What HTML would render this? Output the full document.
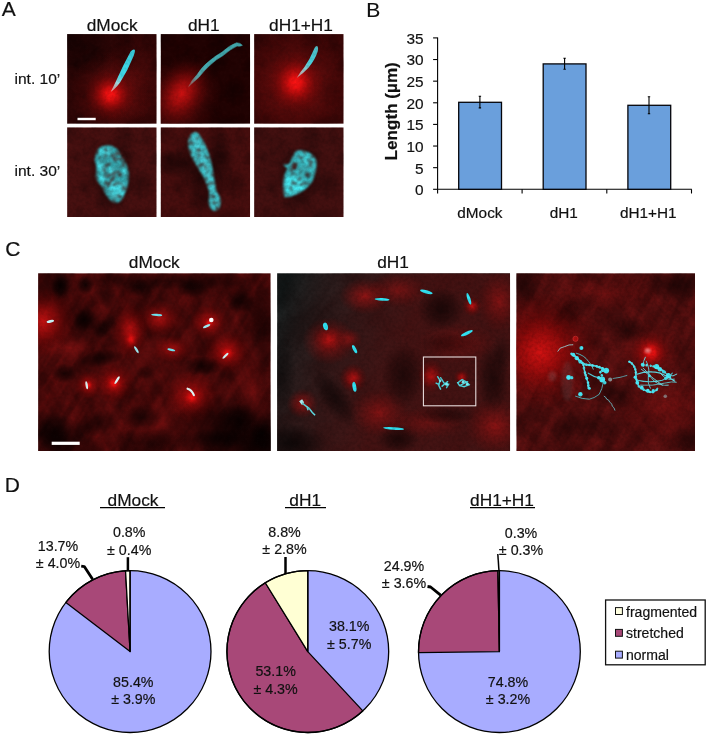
<!DOCTYPE html>
<html lang="en">
<head>
<meta charset="utf-8">
<title>Figure</title>
<style>
html,body{margin:0;padding:0;background:#fff;}
body{width:708px;height:740px;overflow:hidden;position:relative;}
svg{display:block;}
#fig{position:absolute;left:0;top:0;}
text{font-family:"Liberation Sans",Arial,Helvetica,sans-serif;fill:#111;stroke:#111;stroke-width:0.18px;}
.pl{font-size:21px;}
.h17{font-size:17.3px;}
.t15{font-size:15.55px;}
.ax{font-size:15.35px;}
.tk{font-size:15.4px;}
.pt{font-size:14.25px;}
.lg{font-size:14.05px;}
.yl{font-size:17.1px;font-weight:bold;}
</style>
</head>
<body>
<svg id="fig" width="708" height="740" viewBox="0 0 708 740">
<defs>
<filter id="b05" x="-30%" y="-30%" width="160%" height="160%"><feGaussianBlur stdDeviation="0.5"/></filter>
<filter id="b1" x="-30%" y="-30%" width="160%" height="160%"><feGaussianBlur stdDeviation="0.9"/></filter>
<filter id="b2" x="-30%" y="-30%" width="160%" height="160%"><feGaussianBlur stdDeviation="1.6"/></filter>
<filter id="b3" x="-30%" y="-30%" width="160%" height="160%"><feGaussianBlur stdDeviation="3"/></filter>
<filter id="nzA" x="0" y="0" width="100%" height="100%" color-interpolation-filters="sRGB"><feTurbulence type="fractalNoise" baseFrequency="0.06" numOctaves="3" seed="4"/><feColorMatrix type="matrix" values="0 0 0 0 0  0 0 0 0 0  0 0 0 0 0  2.2 0 0 0 -0.85"/></filter>
<filter id="nzC" x="0" y="0" width="100%" height="100%" color-interpolation-filters="sRGB"><feTurbulence type="fractalNoise" baseFrequency="0.035 0.03" numOctaves="4" seed="11"/><feColorMatrix type="matrix" values="0 0 0 0 0  0 0 0 0 0  0 0 0 0 0  3.2 0 0 0 -1.25"/></filter>
<filter id="nzF" x="0" y="0" width="100%" height="100%" color-interpolation-filters="sRGB"><feTurbulence type="fractalNoise" baseFrequency="0.32" numOctaves="2" seed="7"/><feColorMatrix type="matrix" values="0 0 0 0 0  0 0 0 0 0  0 0 0 0 0  1.6 0 0 0 -0.6"/></filter>
<filter id="fib" x="0" y="0" width="100%" height="100%" color-interpolation-filters="sRGB"><feTurbulence type="fractalNoise" baseFrequency="0.012 0.09" numOctaves="3" seed="5"/><feColorMatrix type="matrix" values="0 0 0 0 0  0 0 0 0 0  0 0 0 0 0  3.4 0 0 0 -1.35"/></filter>
<filter id="tex" x="-20%" y="-20%" width="140%" height="140%" color-interpolation-filters="sRGB"><feTurbulence type="fractalNoise" baseFrequency="0.22" numOctaves="2" seed="3" result="n"/><feColorMatrix in="n" type="matrix" values="0 0 0 0 0.25  0 0 0 0 0.2  0 0 0 0 0.2  3.0 0 0 0 -1.4" result="d"/><feComposite in="d" in2="SourceGraphic" operator="in" result="dd"/><feMerge><feMergeNode in="SourceGraphic"/><feMergeNode in="dd"/></feMerge><feGaussianBlur stdDeviation="0.8"/></filter>
<linearGradient id="c2r" x1="12" y1="0" x2="135" y2="45" gradientUnits="userSpaceOnUse"><stop offset="0" stop-color="#4c1212" stop-opacity="0"/><stop offset="0.3" stop-color="#4c1212" stop-opacity="0.3"/><stop offset="0.6" stop-color="#4c1212" stop-opacity="0.55"/><stop offset="1" stop-color="#4e1010" stop-opacity="0.8"/></linearGradient>
<radialGradient id="gR"><stop offset="0" stop-color="#fa1414"/><stop offset="0.18" stop-color="#ec1010" stop-opacity="0.95"/><stop offset="0.42" stop-color="#b80a0a" stop-opacity="0.7"/><stop offset="0.7" stop-color="#800606" stop-opacity="0.32"/><stop offset="1" stop-color="#600000" stop-opacity="0"/></radialGradient>
<radialGradient id="gM"><stop offset="0" stop-color="#d41212" stop-opacity="0.95"/><stop offset="0.35" stop-color="#b00c0c" stop-opacity="0.7"/><stop offset="0.7" stop-color="#800606" stop-opacity="0.3"/><stop offset="1" stop-color="#600000" stop-opacity="0"/></radialGradient>
<radialGradient id="gS"><stop offset="0" stop-color="#a01414" stop-opacity="0.85"/><stop offset="0.5" stop-color="#801010" stop-opacity="0.5"/><stop offset="1" stop-color="#600808" stop-opacity="0"/></radialGradient>
<radialGradient id="gD"><stop offset="0" stop-color="#000" stop-opacity="0.8"/><stop offset="0.5" stop-color="#000" stop-opacity="0.5"/><stop offset="1" stop-color="#000" stop-opacity="0"/></radialGradient>
<linearGradient id="st1" x1="44" y1="58" x2="67" y2="15" gradientUnits="userSpaceOnUse"><stop offset="0" stop-color="#f08080"/><stop offset="0.22" stop-color="#a0d8dc"/><stop offset="0.4" stop-color="#40dcec"/><stop offset="1" stop-color="#38c8d8"/></linearGradient>
<linearGradient id="st2" x1="28" y1="52" x2="80" y2="10" gradientUnits="userSpaceOnUse"><stop offset="0" stop-color="#a05050"/><stop offset="0.18" stop-color="#5aa0a4"/><stop offset="0.4" stop-color="#44aab0"/><stop offset="1" stop-color="#42a6aa"/></linearGradient>
<linearGradient id="st3" x1="42" y1="44" x2="63" y2="12" gradientUnits="userSpaceOnUse"><stop offset="0" stop-color="#e08080"/><stop offset="0.3" stop-color="#90c8cc"/><stop offset="0.55" stop-color="#48d0dc"/><stop offset="1" stop-color="#50b8c0"/></linearGradient>
</defs>

<text class="pl" x="1.8" y="16.3">A</text>
<text class="h17" x="112.2" y="31.3" text-anchor="middle">dMock</text>
<text class="h17" x="203.8" y="31.3" text-anchor="middle">dH1</text>
<text class="h17" x="301" y="31.3" text-anchor="middle">dH1+H1</text>
<text class="t15" x="14.5" y="83.9">int. 10’</text>
<text class="t15" x="14.5" y="176.1">int. 30’</text>
<svg x="67.1" y="34.1" width="89.6" height="89.75" viewBox="0 0 89.6 89.75" overflow="hidden">
<rect width="89.6" height="89.75" fill="#2e0606"/>
<rect width="89.6" height="89.75" filter="url(#nzA)" opacity="0.35"/>
<ellipse cx="70" cy="50" rx="40" ry="60" fill="url(#gS)" opacity="0.35"/><ellipse cx="10" cy="12" rx="40" ry="36" fill="url(#gD)" opacity="0.5"/><ellipse cx="44" cy="60" rx="42" ry="42" fill="url(#gS)" opacity="0.75"/><ellipse cx="43.5" cy="60.5" rx="26" ry="26" fill="url(#gR)"/>
<path d="M43.6 58 L49 47 Q56 31 63.5 17.5 Q66 14.5 67.6 15.6 Q68.4 17 66.5 22 Q61 36 53 48.5 Q48 55 43.6 58 Z" fill="url(#st1)" filter="url(#b05)"/>
<rect width="89.6" height="89.75" filter="url(#nzF)" opacity="0.15"/>
<rect x="10.4" y="83.7" width="18.2" height="2.4" fill="#fff"/>
</svg>
<svg x="160.6" y="34.1" width="89.6" height="89.75" viewBox="0 0 89.6 89.75" overflow="hidden">
<rect width="89.6" height="89.75" fill="#220303"/>
<rect width="89.6" height="89.75" filter="url(#nzA)" opacity="0.3"/>
<ellipse cx="18" cy="66" rx="40" ry="48" fill="url(#gS)" opacity="0.8" transform="rotate(35 18 66)"/><ellipse cx="21" cy="59" rx="25" ry="35" fill="url(#gM)" transform="rotate(35 21 59)"/>
<path d="M28 52.5 Q31 46 36.5 40.5 Q42 32 48 27.5 Q55 21.5 61.5 18 Q69 11 76 8.6 Q80 8.6 81.8 11.2 Q80 12.6 76.5 12 Q70 15 62.5 21.5 Q56 25 49.5 31 Q44 36 38.5 43 Q33 48 28 52.5 Z" fill="url(#st2)" stroke="url(#st2)" stroke-width="0.5" stroke-linejoin="round" filter="url(#b05)"/>
<rect width="89.6" height="89.75" filter="url(#nzF)" opacity="0.15"/>

</svg>
<svg x="254.1" y="34.1" width="89.6" height="89.75" viewBox="0 0 89.6 89.75" overflow="hidden">
<rect width="89.6" height="89.75" fill="#3a0707"/>
<rect width="89.6" height="89.75" filter="url(#nzA)" opacity="0.3"/>
<ellipse cx="42" cy="50" rx="56" ry="56" fill="url(#gS)" opacity="0.85"/><ellipse cx="41.5" cy="48.5" rx="29" ry="31" fill="url(#gR)"/>
<path d="M42.6 43.8 Q46 38 50 33.5 Q56 25 60 15 Q61 11.5 63 11.8 Q64.6 13 63.6 17.5 Q61.2 25.5 54.6 33.4 Q49.6 39 42.6 43.8 Z" fill="url(#st3)" filter="url(#b05)"/>
<rect width="89.6" height="89.75" filter="url(#nzF)" opacity="0.15"/>

</svg>
<svg x="67.1" y="127.3" width="89.6" height="89.75" viewBox="0 0 89.6 89.75" overflow="hidden">
<rect width="89.6" height="89.75" fill="#471010"/>
<rect width="89.6" height="89.75" filter="url(#nzA)" opacity="0.25"/>
<ellipse cx="45" cy="47" rx="24" ry="36" fill="url(#gD)" opacity="0.75"/>
<g filter="url(#tex)"><path d="M37 18.5 Q44 17 48 20.5 Q52 22 54 29 Q60 36 60.5 41 Q62.5 46 61.6 51 Q61 60 57.5 67 Q55 74 50.5 75.5 Q45 76 42.5 72.5 Q37 66 34.5 59 Q29.5 54 28.4 49.5 Q30 43 29 37.5 Q27 33 27.8 30.5 Q28.5 25 30.5 22.5 Q33 19 37 18.5 Z" fill="#35aab2"/><path d="M33 22 Q38 19 44 22 L43 27 Q37 29 32 27 Z M31 33 Q36 36 40 42 L36 46 Q31 44 30 38 Z M41 40 Q46 38 48 44 L44 48 Z M31 49 Q36 47 40 52 L35 55 Z M43 56 Q50 52 58 56 Q59 64 55 70 Q50 74 45 70 Q41 64 43 56 Z M55 40 Q59 40 60 46 L56 48 Z" fill="#48e0ea"/><path d="M44 28 L56 26 M46 33 L58 30 M38 50 L52 44 M40 60 L48 48" stroke="#5a2020" stroke-width="1.6" fill="none" opacity="0.7"/></g>
<rect width="89.6" height="89.75" filter="url(#nzF)" opacity="0.18"/>

</svg>
<svg x="160.6" y="127.3" width="89.6" height="89.75" viewBox="0 0 89.6 89.75" overflow="hidden">
<rect width="89.6" height="89.75" fill="#470e0e"/>
<rect width="89.6" height="89.75" filter="url(#nzA)" opacity="0.25"/>
<ellipse cx="12" cy="36" rx="22" ry="14" fill="url(#gD)" opacity="0.6"/><ellipse cx="60" cy="34" rx="14" ry="30" fill="url(#gD)" opacity="0.5"/><ellipse cx="40" cy="48" rx="22" ry="44" fill="url(#gD)" opacity="0.5" transform="rotate(-20 40 48)"/>
<g filter="url(#tex)"><path d="M34.5 4.8 Q38 5 40 9.5 Q44 15 46 20.5 Q49 27 50.5 34.5 Q52.5 42 53.5 51 Q55 58 56 64.5 Q60 69 60 74.5 Q60 80 57.5 82.5 Q54 85 51.5 82.5 Q47.5 79 48 73 Q49 69 48.5 64 Q46 56 43 50 Q38 42 35 36.5 Q29.5 28 28.5 22.5 Q26.5 16 28 11.5 Q30 6 34.5 4.8 Z" fill="#3fc0c8"/><path d="M33 10 Q37 14 38 22 Q42 32 46 44 Q50 54 52 62" stroke="#50dce6" stroke-width="4" fill="none" opacity="0.7"/><path d="M36 22 l2 3 M44 38 l1.5 3 M52 74 l3 2" stroke="#60403a" stroke-width="2" opacity="0.6"/></g>
<rect width="89.6" height="89.75" filter="url(#nzF)" opacity="0.18"/>

</svg>
<svg x="254.1" y="127.3" width="89.6" height="89.75" viewBox="0 0 89.6 89.75" overflow="hidden">
<rect width="89.6" height="89.75" fill="#431010"/>
<rect width="89.6" height="89.75" filter="url(#nzA)" opacity="0.25"/>
<ellipse cx="46" cy="48" rx="24" ry="30" fill="url(#gD)" opacity="0.65"/>
<g filter="url(#tex)"><path d="M43 23.2 Q49 22.5 55 25.2 Q60 28 62.5 33.5 Q63 41 60.5 48.5 Q59 54 56.5 56.5 Q53 61 51 62 Q46 66 41.5 67.5 Q36 70 30.6 70 Q29 66 29.3 61.8 Q28.5 56 29.3 51 Q30.5 45 33.4 41.5 Q30 39 29 37 Q33 38 35.5 36 Q37.5 30 40 26.6 Q41 24 43 23.2 Z" fill="#38b8c0"/><path d="M31 52 Q38 46 46 50 Q52 56 50 62 Q42 67 32 68 Q30 60 31 52 Z" fill="#46ecf4"/><path d="M44 25 Q52 24 58 29 Q62 36 60 44 L54 42 Q50 34 44 30 Z" fill="#42d4dc" opacity="0.8"/><ellipse cx="40.3" cy="38.8" rx="2.6" ry="3.6" fill="#481414"/><ellipse cx="54" cy="48" rx="2.5" ry="3" fill="#2a5a60"/></g>
<rect width="89.6" height="89.75" filter="url(#nzF)" opacity="0.18"/>

</svg>
<text class="pl" x="366.3" y="17">B</text>
<g stroke="#000" stroke-width="1.1" fill="none">
<path d="M437.6 37.4 V189.3 H691.8"/>
<path d="M433.1 189.30 H437.6"/>
<path d="M433.1 167.67 H437.6"/>
<path d="M433.1 146.04 H437.6"/>
<path d="M433.1 124.41 H437.6"/>
<path d="M433.1 102.79 H437.6"/>
<path d="M433.1 81.16 H437.6"/>
<path d="M433.1 59.53 H437.6"/>
<path d="M433.1 37.90 H437.6"/>
<path d="M437.6 189.3 V193.5"/>
<path d="M522.1 189.3 V193.5"/>
<path d="M606.8 189.3 V193.5"/>
<path d="M691.5 189.3 V193.5"/>
</g>
<text class="tk" x="423.5" y="195.20" text-anchor="end">0</text>
<text class="tk" x="423.5" y="173.57" text-anchor="end">5</text>
<text class="tk" x="423.5" y="151.94" text-anchor="end">10</text>
<text class="tk" x="423.5" y="130.31" text-anchor="end">15</text>
<text class="tk" x="423.5" y="108.69" text-anchor="end">20</text>
<text class="tk" x="423.5" y="87.06" text-anchor="end">25</text>
<text class="tk" x="423.5" y="65.43" text-anchor="end">30</text>
<text class="tk" x="423.5" y="43.80" text-anchor="end">35</text>
<rect x="458.7" y="102.3" width="42.8" height="87.0" fill="#6a9fdc" stroke="#05050a" stroke-width="1.3"/>
<path d="M479.9 96.3 V107.9 M478.7 96.3 H481.09999999999997 M478.7 107.9 H481.09999999999997" stroke="#000" stroke-width="1.1" fill="none"/>
<rect x="543.2" y="63.9" width="42.8" height="125.4" fill="#6a9fdc" stroke="#05050a" stroke-width="1.3"/>
<path d="M564.6 58.2 V69.3 M563.4 58.2 H565.8000000000001 M563.4 69.3 H565.8000000000001" stroke="#000" stroke-width="1.1" fill="none"/>
<rect x="627.9" y="105.3" width="42.8" height="84.0" fill="#6a9fdc" stroke="#05050a" stroke-width="1.3"/>
<path d="M649 96.8 V113.8 M647.8 96.8 H650.2 M647.8 113.8 H650.2" stroke="#000" stroke-width="1.1" fill="none"/>
<text class="ax" x="479.9" y="218.4" text-anchor="middle">dMock</text>
<text class="ax" x="563.8" y="218.4" text-anchor="middle">dH1</text>
<text class="ax" x="648.3" y="218.4" text-anchor="middle">dH1+H1</text>
<text class="yl" transform="translate(396.9 111.3) rotate(-90)" text-anchor="middle">Length (µm)</text>
<text class="pl" x="5.3" y="256.3">C</text>
<text class="h17" x="154.3" y="268" text-anchor="middle">dMock</text>
<text class="h17" x="393" y="268" text-anchor="middle">dH1</text>
<svg x="38.1" y="273.2" width="232.6" height="177.9" viewBox="0 0 232.6 177.9" overflow="hidden">
<rect width="232.6" height="177.9" fill="#5c0d0d"/>
<g transform="rotate(-58 116.3 88.95)"><rect x="-93" y="-107" width="419" height="391" filter="url(#fib)" opacity="0.22"/></g>
<g transform="rotate(65 116.3 88.95)"><rect x="-93" y="-107" width="419" height="391" filter="url(#fib)" opacity="0.12"/></g>
<rect width="232.6" height="177.9" filter="url(#nzC)" opacity="0.3"/>
<ellipse cx="5" cy="49" rx="34" ry="36" fill="url(#gM)" opacity="0.9"/><ellipse cx="92" cy="58" rx="18" ry="30" fill="url(#gM)" opacity="0.9"/><ellipse cx="93" cy="66" rx="9" ry="12" fill="url(#gR)" opacity="0.8"/><ellipse cx="121" cy="46" rx="24" ry="18" fill="url(#gM)" opacity="0.7"/><ellipse cx="171" cy="49" rx="20" ry="18" fill="url(#gM)" opacity="0.85"/><ellipse cx="171" cy="50" rx="9" ry="8" fill="url(#gR)" opacity="0.7"/><ellipse cx="189" cy="79" rx="24" ry="22" fill="url(#gM)" opacity="0.9"/><ellipse cx="189" cy="80" rx="11" ry="10" fill="url(#gR)" opacity="0.85"/><ellipse cx="50" cy="112" rx="14" ry="14" fill="url(#gM)" opacity="0.9"/><ellipse cx="50" cy="112" rx="7" ry="7" fill="url(#gR)" opacity="0.9"/><ellipse cx="76" cy="110" rx="21" ry="20" fill="url(#gM)" opacity="0.95"/><ellipse cx="76" cy="110" rx="11" ry="11" fill="url(#gR)" opacity="0.95"/><ellipse cx="153.5" cy="124" rx="27" ry="27" fill="url(#gM)" opacity="0.9"/><ellipse cx="153.5" cy="124" rx="12" ry="12" fill="url(#gR)" opacity="0.9"/><ellipse cx="134" cy="76" rx="20" ry="15" fill="url(#gM)" opacity="0.7"/><ellipse cx="120" cy="150" rx="50" ry="30" fill="url(#gS)" opacity="0.5"/><ellipse cx="215" cy="120" rx="20" ry="40" fill="url(#gS)" opacity="0.5"/><ellipse cx="30" cy="75" rx="30" ry="12" fill="url(#gS)" opacity="0.6"/><ellipse cx="22" cy="12" rx="10" ry="15" fill="url(#gD)"/><ellipse cx="47.5" cy="12" rx="9" ry="10" fill="url(#gD)" opacity="0.95"/><ellipse cx="62.7" cy="56" rx="11" ry="10" fill="url(#gD)" opacity="0.8"/><ellipse cx="71" cy="50" rx="8" ry="9" fill="url(#gD)" opacity="0.6"/><ellipse cx="24.7" cy="13.5" rx="11" ry="13" fill="url(#gD)" opacity="0.6"/><ellipse cx="46.7" cy="47" rx="13" ry="12" fill="url(#gD)"/><ellipse cx="64" cy="85" rx="22" ry="9" fill="url(#gD)" opacity="0.85" transform="rotate(-10 64 85)"/><ellipse cx="26" cy="100" rx="13" ry="10" fill="url(#gD)" opacity="0.85"/><ellipse cx="16" cy="158" rx="18" ry="20" fill="url(#gD)" opacity="0.8"/><ellipse cx="104" cy="144" rx="22" ry="14" fill="url(#gD)" opacity="0.85"/><ellipse cx="165" cy="93" rx="20" ry="10" fill="url(#gD)" opacity="0.85"/><ellipse cx="203" cy="29" rx="14" ry="12" fill="url(#gD)" opacity="0.8"/><ellipse cx="155" cy="15" rx="16" ry="10" fill="url(#gD)" opacity="0.8"/><ellipse cx="200" cy="146" rx="22" ry="16" fill="url(#gD)" opacity="0.8"/><ellipse cx="101" cy="15" rx="14" ry="9" fill="url(#gD)" opacity="0.8"/><ellipse cx="70" cy="22" rx="10" ry="14" fill="url(#gD)" opacity="0.6"/><ellipse cx="225" cy="160" rx="14" ry="18" fill="url(#gD)" opacity="0.8"/><ellipse cx="60" cy="150" rx="18" ry="12" fill="url(#gD)" opacity="0.7" transform="rotate(-30 60 150)"/><ellipse cx="180" cy="165" rx="30" ry="10" fill="url(#gD)" opacity="0.7"/><ellipse cx="108" cy="100" rx="10" ry="8" fill="url(#gD)" opacity="0.6"/><ellipse cx="200" cy="160" rx="75" ry="42" fill="url(#gD)" opacity="0.85"/><ellipse cx="225" cy="172" rx="40" ry="22" fill="url(#gD)" opacity="0.9"/><ellipse cx="20" cy="168" rx="34" ry="26" fill="url(#gD)" opacity="0.9"/><ellipse cx="110" cy="170" rx="45" ry="16" fill="url(#gD)" opacity="0.6"/><ellipse cx="226" cy="60" rx="14" ry="60" fill="url(#gD)" opacity="0.55"/><ellipse cx="130" cy="8" rx="110" ry="9" fill="url(#gD)" opacity="0.5"/>
<g filter="url(#b05)"><ellipse cx="12.2" cy="48.1" rx="3.8" ry="1.4" fill="#c8f6fa" transform="rotate(-12 12.2 48.1)"/><ellipse cx="118.6" cy="41.7" rx="5.5" ry="1.2" fill="#70e4f0" transform="rotate(3 118.6 41.7)"/><circle cx="173.2" cy="46.8" r="2.3" fill="#fff"/><ellipse cx="168.6" cy="53" rx="4.0" ry="1.2" fill="#a0f0f8" transform="rotate(-25 168.6 53)"/><ellipse cx="98.3" cy="76.5" rx="4.0" ry="1.2" fill="#a0ecf4" transform="rotate(60 98.3 76.5)"/><ellipse cx="133.2" cy="76.6" rx="4.0" ry="1.2" fill="#70e4f0" transform="rotate(12 133.2 76.6)"/><ellipse cx="187.4" cy="82.6" rx="4.0" ry="1.15" fill="#d0f6f6" transform="rotate(-45 187.4 82.6)"/><ellipse cx="48.6" cy="112" rx="4.0" ry="1.15" fill="#e0f8f8" transform="rotate(80 48.6 112)"/><ellipse cx="79" cy="107" rx="4.5" ry="1.15" fill="#e0f8f8" transform="rotate(-58 79 107)"/><path d="M149.5 115.5 Q153.5 116.5 155.8 122" stroke="#e0f8f8" stroke-width="2.2" fill="none" stroke-linecap="round"/></g>
<rect width="232.6" height="177.9" filter="url(#nzF)" opacity="0.14"/>
<rect x="13.6" y="168.5" width="28" height="3.2" fill="#fff"/>
</svg>
<svg x="277.1" y="273.2" width="233.0" height="177.9" viewBox="0 0 233.0 177.9" overflow="hidden">
<rect width="233.0" height="177.9" fill="#1c2222"/>
<g transform="rotate(-50 116.5 88.95)"><rect x="-93" y="-107" width="419" height="391" filter="url(#fib)" opacity="0.12"/></g>
<rect width="233.0" height="177.9" filter="url(#nzC)" opacity="0.3"/>
<rect width="233" height="178" fill="url(#c2r)"/><ellipse cx="88" cy="23" rx="26" ry="18" fill="url(#gS)"/><ellipse cx="52" cy="68" rx="27" ry="24" fill="url(#gS)"/><ellipse cx="52" cy="66" rx="16" ry="14" fill="url(#gM)" opacity="0.6"/><ellipse cx="72" cy="66" rx="13" ry="11" fill="url(#gS)" opacity="0.8"/><ellipse cx="76" cy="105" rx="14" ry="15" fill="url(#gM)" opacity="0.85"/><ellipse cx="25.4" cy="130.4" rx="16" ry="15" fill="url(#gS)"/><ellipse cx="195" cy="33" rx="10" ry="10" fill="url(#gM)" opacity="0.9"/><ellipse cx="154" cy="103" rx="14" ry="17" fill="url(#gM)" opacity="0.8"/><ellipse cx="184.5" cy="104" rx="8" ry="8" fill="url(#gM)" opacity="0.85"/><ellipse cx="121" cy="17" rx="30" ry="18" fill="url(#gS)" opacity="0.7"/><ellipse cx="222" cy="28" rx="22" ry="30" fill="url(#gS)" opacity="0.8"/><ellipse cx="218" cy="153" rx="30" ry="28" fill="url(#gS)" opacity="0.9"/><ellipse cx="102" cy="140" rx="30" ry="24" fill="url(#gS)" opacity="0.8"/><ellipse cx="180" cy="70" rx="40" ry="20" fill="url(#gS)" opacity="0.6"/><ellipse cx="150" cy="150" rx="40" ry="16" fill="url(#gS)" opacity="0.5"/><ellipse cx="164" cy="36" rx="24" ry="22" fill="url(#gD)" opacity="0.75"/><ellipse cx="58" cy="125" rx="14" ry="34" fill="url(#gD)" opacity="0.7" transform="rotate(-35 58 125)"/><ellipse cx="121" cy="166" rx="22" ry="14" fill="url(#gD)" opacity="0.7"/><ellipse cx="216" cy="105" rx="16" ry="36" fill="url(#gD)" opacity="0.65"/><ellipse cx="126" cy="102" rx="22" ry="34" fill="url(#gD)" opacity="0.65"/><ellipse cx="172" cy="70" rx="30" ry="11" fill="url(#gD)" opacity="0.5"/><ellipse cx="170" cy="142" rx="30" ry="9" fill="url(#gD)" opacity="0.5"/><ellipse cx="15" cy="170" rx="36" ry="20" fill="url(#gD)" opacity="0.85"/><ellipse cx="5" cy="100" rx="14" ry="40" fill="url(#gD)" opacity="0.5"/><ellipse cx="225" cy="80" rx="10" ry="20" fill="url(#gD)" opacity="0.4"/>
<g filter="url(#b05)"><ellipse cx="105" cy="26.2" rx="7.5" ry="1.4" fill="#30e4f4" transform="rotate(3 105 26.2)"/><ellipse cx="149.2" cy="18.7" rx="6.5" ry="1.6" fill="#30e4f4" transform="rotate(15 149.2 18.7)"/><ellipse cx="191.8" cy="25.6" rx="6.0" ry="1.6" fill="#30e4f4" transform="rotate(72 191.8 25.6)"/><ellipse cx="48.4" cy="53.2" rx="3.9" ry="2.4" fill="#30e4f4" transform="rotate(75 48.4 53.2)"/><ellipse cx="77.5" cy="76" rx="4.5" ry="1.6" fill="#30e4f4" transform="rotate(62 77.5 76)"/><ellipse cx="189.8" cy="60" rx="6.5" ry="1.6" fill="#30e4f4" transform="rotate(-25 189.8 60)"/><ellipse cx="77.3" cy="113.6" rx="5.0" ry="1.9" fill="#30e4f4" transform="rotate(80 77.3 113.6)"/><ellipse cx="116.5" cy="155.3" rx="10.5" ry="1.3" fill="#30e4f4" transform="rotate(4 116.5 155.3)"/><path d="M22 128 l3 -2 l2 3 l-2 3 z" fill="#b0f4f8"/><path d="M25 130 l4 3 l3 2 l3 4 l3 3 M30 134 l1 3" stroke="#60e0e8" stroke-width="1.5" fill="none"/><path d="M160.5 103.5 l2.5 4 l-1.5 4.5 l2 4 M163.5 104.5 l3.5 5.5 l4.5 1 l-2 3.5 M165 113 l5.5 -4.5 M159 110 l3 1.5 M181.5 109 l3.5 -2.5 l4.5 2.5 l2.5 2.5 l-5 2 l-4.5 -1 l-2 -3 M183.5 112 l7 -3.5" stroke="#50d4dc" stroke-width="1.5" fill="none" stroke-linecap="round"/><circle cx="163" cy="107.5" r="1.3" fill="#7af0f8"/><circle cx="169.5" cy="111" r="1.5" fill="#7af0f8"/><circle cx="186" cy="109" r="1.4" fill="#7af0f8"/><circle cx="190" cy="111" r="1.2" fill="#7af0f8"/></g>
<rect width="233.0" height="177.9" filter="url(#nzF)" opacity="0.2"/>
<rect x="146.3" y="83.8" width="52.4" height="48.8" fill="none" stroke="#eee4e4" stroke-width="1.05"/>
</svg>
<svg x="516.3" y="273.2" width="178.7" height="177.9" viewBox="0 0 178.7 177.9" overflow="hidden">
<rect width="178.7" height="177.9" fill="#621212"/>
<g transform="rotate(-62 89.35 88.95)"><rect x="-71" y="-107" width="322" height="391" filter="url(#fib)" opacity="0.18"/></g>
<g transform="rotate(50 89.35 88.95)"><rect x="-71" y="-107" width="322" height="391" filter="url(#fib)" opacity="0.1"/></g>
<rect width="178.7" height="177.9" filter="url(#nzC)" opacity="0.28"/>
<ellipse cx="24" cy="78" rx="60" ry="60" fill="url(#gM)"/><ellipse cx="24" cy="80" rx="36" ry="38" fill="url(#gM)" opacity="0.7"/><ellipse cx="134.5" cy="80" rx="34" ry="32" fill="url(#gS)" opacity="0.8"/><ellipse cx="134.5" cy="79" rx="20" ry="20" fill="url(#gR)" opacity="0.95"/><ellipse cx="150" cy="135" rx="50" ry="40" fill="url(#gS)" opacity="0.5"/><ellipse cx="90" cy="20" rx="60" ry="20" fill="url(#gS)" opacity="0.4"/><ellipse cx="10" cy="10" rx="25" ry="20" fill="url(#gD)" opacity="0.4"/><ellipse cx="160" cy="12" rx="30" ry="18" fill="url(#gD)" opacity="0.5"/><ellipse cx="110" cy="57" rx="22" ry="14" fill="url(#gD)" opacity="0.5"/><ellipse cx="70" cy="152" rx="40" ry="18" fill="url(#gD)" opacity="0.5"/><ellipse cx="102" cy="122" rx="18" ry="14" fill="url(#gD)" opacity="0.4"/><ellipse cx="60" cy="35" rx="30" ry="12" fill="url(#gD)" opacity="0.4" transform="rotate(-30 60 35)"/><ellipse cx="170" cy="165" rx="20" ry="15" fill="url(#gD)" opacity="0.5"/>
<ellipse cx="51" cy="108" rx="6" ry="20" fill="#8fb0b4" opacity="0.12" filter="url(#b2)"/><ellipse cx="36" cy="103" rx="4" ry="5" fill="#8a9a9c" opacity="0.2" filter="url(#b2)"/><ellipse cx="131.5" cy="77.5" rx="3" ry="2.4" fill="#f0a0a0" opacity="0.7" filter="url(#b1)"/><g filter="url(#b05)" fill="none" stroke-linecap="round" stroke-linejoin="round"><path d="M41.5 78 Q43 74 48 73.5 Q53 71 56.5 71.5" stroke="#9ad0d4" stroke-width="0.9"/><path d="M55.3 80.6 Q59 83 63.2 87.5 Q66 90.5 70 91.5 Q79 92 86.9 95.4" stroke="#50e0ec" stroke-width="1.7"/><path d="M60 80 Q68 82 72 88 Q76 92 77 96" stroke="#58c8d0" stroke-width="0.9"/><path d="M67.1 91.5 Q68 98 70 104 Q72.5 110 72 115" stroke="#50d8e4" stroke-width="1.5"/><path d="M86.9 109.3 Q86 116 82.9 121.1 Q78 125 73 126 Q66 126 59.2 123" stroke="#58b8c0" stroke-width="0.9"/><path d="M87.9 123 q2 1 2.5 3 q2.5 0.5 3 3 q2.5 1 2.6 4 q2 1 2.6 4" stroke="#70c0c8" stroke-width="0.9"/><path d="M96.8 105.3 Q104 104.5 110.6 102.3" stroke="#60b0b8" stroke-width="0.9"/><path d="M72 100 Q78 104 84 105" stroke="#50d0dc" stroke-width="1.2"/><path d="M113 88.5 Q118 91 119.5 98 Q119 106 122.5 113.2 Q129 118.5 136.3 119.1 Q140 118 141.3 115.2" stroke="#58e0ec" stroke-width="1.5"/><path d="M120.5 101 Q132 97 144 100 Q152 103 158.5 108" stroke="#60dce6" stroke-width="1.2"/><path d="M121 107 Q134 110 146 107 Q153 104 156 100" stroke="#58d0da" stroke-width="1.1"/><path d="M124 112 Q136 113 148 110 Q156 108 160 109" stroke="#60c8d0" stroke-width="0.9"/><path d="M127 95 Q134 104 146 112 M138 93 Q146 96 152 102 Q157 104 160.5 101 M129 84 Q126.5 88 127 93" stroke="#68d0d8" stroke-width="1.0"/></g><g filter="url(#b05)" fill="none" stroke="#52e6f2" stroke-linecap="round"><path d="M55.3 80.6 Q59 83 63.2 87.5 Q66 90.5 70 91.5 Q79 92 86.9 95.4 M67.1 91.5 Q68 98 70 104 Q72.5 110 72 115 M84 99 Q87 103 85 108" stroke-width="2.6" stroke-dasharray="0.1 3.3 0.1 4.4 0.1 2.6"/><path d="M113 88.5 Q118 91 119.5 98 Q119 106 122.5 113.2 Q129 118.5 136.3 119.1 Q140 118 141.3 115.2 M127 92 Q136 92 142 95 Q150 99 154 104" stroke-width="2.4" stroke-dasharray="0.1 3.0 0.1 4.2 0.1 2.5"/><path d="M125 96 Q132 100 138 108 Q144 113 152 112 M130 88 Q134 96 132 104 Q131 110 134 115 M144 100 Q150 108 158 106" stroke="#6adce6" stroke-width="0.9"/></g><g filter="url(#b05)" fill="#4ae8f6"><circle cx="65.1" cy="74.7" r="2.0"/><circle cx="57" cy="81.5" r="1.9"/><circle cx="60.5" cy="85" r="2.1"/><circle cx="64" cy="88.5" r="1.9"/><circle cx="90" cy="97.4" r="2.8"/><circle cx="86.5" cy="97" r="1.9"/><circle cx="85.9" cy="106.3" r="2.9"/><circle cx="82.5" cy="104.5" r="1.8"/><circle cx="88.5" cy="109.5" r="1.7"/><circle cx="52.3" cy="104.3" r="2.4"/><circle cx="55.5" cy="104.5" r="1.6"/><circle cx="64.1" cy="121.1" r="2.2"/><circle cx="73" cy="115" r="1.5"/><circle cx="70.5" cy="105" r="1.4"/><circle cx="126.4" cy="91.5" r="1.9"/><circle cx="140.3" cy="93.4" r="2.7"/><circle cx="143.5" cy="96" r="2.2"/><circle cx="147.5" cy="98.5" r="1.8"/><circle cx="152.1" cy="102.3" r="2.5"/><circle cx="149.5" cy="105" r="1.7"/><circle cx="119" cy="104" r="1.7"/><circle cx="121" cy="109.5" r="1.9"/><circle cx="125.5" cy="114.5" r="1.9"/><circle cx="131.5" cy="117.5" r="1.9"/><circle cx="137" cy="117.5" r="1.7"/><circle cx="133" cy="102.5" r="1.5"/></g><circle cx="93.8" cy="106.3" r="2" fill="#9ab8bc" opacity="0.8" filter="url(#b05)"/><circle cx="149" cy="123" r="1.8" fill="#9ab8bc" opacity="0.6" filter="url(#b05)"/><circle cx="59.2" cy="65.6" r="2.6" fill="#b01010" stroke="#d83434" stroke-width="0.6"/>
<rect width="178.7" height="177.9" filter="url(#nzF)" opacity="0.2"/>

</svg>
<text class="pl" x="4.7" y="491.5">D</text>
<circle cx="130.1" cy="651.6" r="80.9" fill="#a8acff"/>
<path d="M130.1 651.6 L65.87 602.42 A80.9 80.9 0 0 1 125.53 570.83 Z" fill="#a84878" stroke="#000" stroke-width="1.3" stroke-linejoin="round"/>
<path d="M130.1 651.6 L125.53 570.83 A80.9 80.9 0 0 1 130.10 570.70 Z" fill="#fffff0" stroke="#000" stroke-width="1.3" stroke-linejoin="round"/>
<path d="M130.1 651.6 V570.7" stroke="#000" stroke-width="1.3"/>
<circle cx="130.1" cy="651.6" r="80.9" fill="none" stroke="#000" stroke-width="1.3"/>
<circle cx="307.8" cy="651.6" r="80.9" fill="#a8acff"/>
<path d="M307.8 651.6 L362.81 710.92 A80.9 80.9 0 1 1 265.31 582.75 Z" fill="#a84878" stroke="#000" stroke-width="1.3" stroke-linejoin="round"/>
<path d="M307.8 651.6 L265.31 582.75 A80.9 80.9 0 0 1 307.80 570.70 Z" fill="#ffffd4" stroke="#000" stroke-width="1.3" stroke-linejoin="round"/>
<path d="M307.8 651.6 V570.7" stroke="#000" stroke-width="1.3"/>
<circle cx="307.8" cy="651.6" r="80.9" fill="none" stroke="#000" stroke-width="1.3"/>
<circle cx="499.4" cy="651.6" r="80.9" fill="#a8acff"/>
<path d="M499.4 651.6 L418.51 652.62 A80.9 80.9 0 0 1 497.88 570.71 Z" fill="#a84878" stroke="#000" stroke-width="1.3" stroke-linejoin="round"/>
<path d="M499.4 651.6 L497.88 570.71 A80.9 80.9 0 0 1 499.40 570.70 Z" fill="#ffffd4" stroke="#000" stroke-width="1.3" stroke-linejoin="round"/>
<path d="M499.4 651.6 V570.7" stroke="#000" stroke-width="1.3"/>
<circle cx="499.4" cy="651.6" r="80.9" fill="none" stroke="#000" stroke-width="1.3"/>
<text class="h17" x="133" y="505.5" text-anchor="middle">dMock</text>
<path d="M100 507.6 H165" stroke="#000" stroke-width="1.2"/>
<text class="h17" x="305.2" y="505.5" text-anchor="middle">dH1</text>
<path d="M285 507.6 H326" stroke="#000" stroke-width="1.2"/>
<text class="h17" x="502" y="505.5" text-anchor="middle">dH1+H1</text>
<path d="M470 507.6 H535" stroke="#000" stroke-width="1.2"/>
<text class="pt" x="133.3" y="686.7" text-anchor="middle">85.4%</text>
<text class="pt" x="133.3" y="704.2" text-anchor="middle">± 3.9%</text>
<text class="pt" x="58" y="550.5" text-anchor="middle">13.7%</text>
<text class="pt" x="58" y="568.0" text-anchor="middle">± 4.0%</text>
<text class="pt" x="129.2" y="537.4" text-anchor="middle">0.8%</text>
<text class="pt" x="129.2" y="554.9" text-anchor="middle">± 0.4%</text>
<text class="pt" x="284.5" y="536.6" text-anchor="middle">8.8%</text>
<text class="pt" x="284.5" y="554.1" text-anchor="middle">± 2.8%</text>
<text class="pt" x="275.6" y="676.4" text-anchor="middle">53.1%</text>
<text class="pt" x="275.6" y="693.9" text-anchor="middle">± 4.3%</text>
<text class="pt" x="349.2" y="631.1" text-anchor="middle">38.1%</text>
<text class="pt" x="349.2" y="648.6" text-anchor="middle">± 5.7%</text>
<text class="pt" x="404" y="570.6" text-anchor="middle">24.9%</text>
<text class="pt" x="404" y="588.1" text-anchor="middle">± 3.6%</text>
<text class="pt" x="521" y="537.6" text-anchor="middle">0.3%</text>
<text class="pt" x="521" y="555.1" text-anchor="middle">± 0.3%</text>
<text class="pt" x="508" y="686.6" text-anchor="middle">74.8%</text>
<text class="pt" x="508" y="704.1" text-anchor="middle">± 3.2%</text>
<g stroke="#000" fill="none"><path d="M81.2 566.2 L84.3 566.6 L92.6 579.3" stroke-width="2.8" stroke-linejoin="round"/><path d="M127.9 557.2 V571" stroke-width="2.5"/><path d="M285.5 557 V574" stroke-width="2.5"/><path d="M427.5 586.5 L430.6 587 L440.6 595.2" stroke-width="2.8" stroke-linejoin="round"/><path d="M497.8 554 L499 571" stroke-width="1.5"/></g>
<rect x="605.6" y="600" width="99.6" height="64.8" fill="#fff" stroke="#111" stroke-width="1.3"/>
<rect x="615.5" y="607.6" width="6.9" height="6.9" fill="#ffffe0" stroke="#111" stroke-width="1"/>
<text class="lg" x="626" y="616.6">fragmented</text>
<rect x="615.5" y="629.4" width="6.9" height="6.9" fill="#a84878" stroke="#111" stroke-width="1"/>
<text class="lg" x="626" y="638.4">stretched</text>
<rect x="615.5" y="651.2" width="6.9" height="6.9" fill="#a8acff" stroke="#111" stroke-width="1"/>
<text class="lg" x="626" y="660.2">normal</text>
</svg>
</body>
</html>
